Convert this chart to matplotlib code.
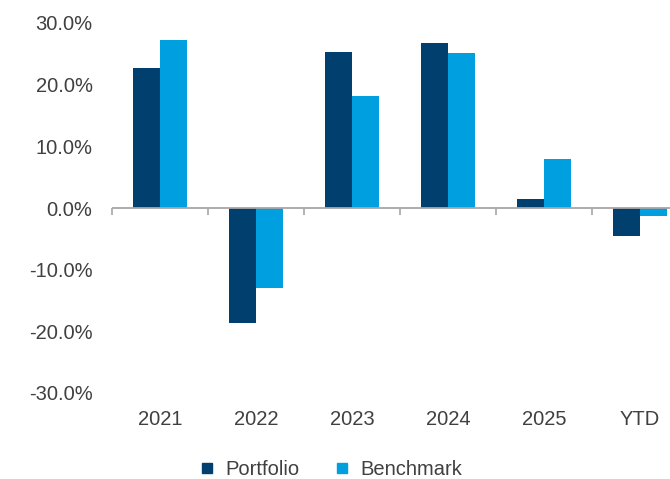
import numpy as np
import matplotlib
matplotlib.use("Agg")
import matplotlib.pyplot as plt
from matplotlib.lines import Line2D
from matplotlib.ticker import FuncFormatter, FixedLocator

categories = ["2021", "2022", "2023", "2024", "2025", "YTD"]
portfolio = [22.7, -18.6, 25.3, 26.8, 1.4, -4.6]
benchmark = [27.2, -13.0, 18.2, 25.2, 7.9, -1.3]

navy = "#003F6E"
sky = "#009FDF"
text_col = "#404040"
axis_col = "#A6A6A6"

plt.rcParams['font.family'] = ['Liberation Sans', 'DejaVu Sans']

fig = plt.figure(figsize=(6.7, 4.79), dpi=100)
# plot area runs a bit past the right edge, as in the original
ax = fig.add_axes([112 / 670, 86 / 479, 576 / 670, 370 / 479])

x = np.arange(len(categories))
w = 0.28
ax.bar(x - w / 2, portfolio, w, color=navy, label="Portfolio", zorder=2)
ax.bar(x + w / 2, benchmark, w, color=sky, label="Benchmark", zorder=2)

ax.set_xlim(-0.5, len(categories) - 0.5)
ax.set_ylim(-30, 30)
ax.set_yticks(np.arange(-30, 31, 10))
ax.yaxis.set_major_formatter(FuncFormatter(lambda v, p: "{:.1f}%".format(v)))

for s in ax.spines.values():
    s.set_visible(False)

ax.tick_params(axis="y", length=0, pad=14, labelsize=14.5, labelcolor=text_col)
ax.set_xticks(x)
ax.set_xticklabels(categories)
ax.tick_params(axis="x", length=0, pad=12, labelsize=14.5, labelcolor=text_col)

# zero line with category separators
ax.axhline(0, color=axis_col, lw=1.3, zorder=3)
sec = ax.secondary_xaxis(0.5)
sec.xaxis.set_ticks_position("bottom")
for s in sec.spines.values():
    s.set_visible(False)
sec.xaxis.set_major_locator(FixedLocator(np.arange(len(categories) + 1) - 0.5))
sec.tick_params(axis="x", which="both", direction="out", length=5, width=1.2,
                color=axis_col, labelbottom=False, labeltop=False)

handles = [Line2D([], [], ls="none", marker="s", markersize=7.5, color=navy, label="Portfolio"),
           Line2D([], [], ls="none", marker="s", markersize=7.5, color=sky, label="Benchmark")]
fig.legend(handles=handles, loc="center", bbox_to_anchor=(0.495, 0.02), ncol=2,
           frameon=False, fontsize=14.5, labelcolor=text_col, handlelength=0.6,
           handletextpad=0.6, columnspacing=1.8)

fig.savefig("out.png", dpi=100)
